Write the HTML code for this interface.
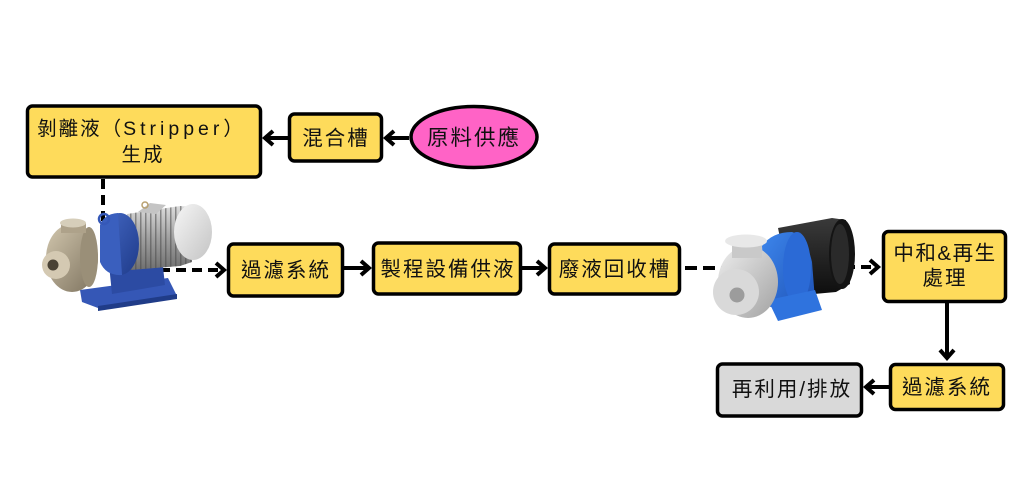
<!DOCTYPE html>
<html><head><meta charset="utf-8"><style>
html,body{margin:0;padding:0;background:#fff;}
body{width:1024px;height:477px;overflow:hidden;}
svg text{font-family:"Liberation Sans","Noto Sans CJK TC",sans-serif;fill:#111;}
</style></head><body>
<svg width="1024" height="477" viewBox="0 0 1024 477" xmlns="http://www.w3.org/2000/svg">
<defs>
<linearGradient id="motorG" x1="0" y1="0" x2="0" y2="1"><stop offset="0" stop-color="#dcdcdc"/><stop offset="0.5" stop-color="#a0a0a0"/><stop offset="1" stop-color="#707070"/></linearGradient>
<linearGradient id="capG" x1="0" y1="0" x2="1" y2="1"><stop offset="0" stop-color="#f6f6f6"/><stop offset="1" stop-color="#c4c4c4"/></linearGradient>
<linearGradient id="blueG" x1="0" y1="0" x2="1" y2="1"><stop offset="0" stop-color="#4468c4"/><stop offset="1" stop-color="#1f3b8a"/></linearGradient>
<linearGradient id="bronzeG" x1="0" y1="0" x2="1" y2="1"><stop offset="0" stop-color="#d2c7ae"/><stop offset="1" stop-color="#7d725e"/></linearGradient>
<linearGradient id="blackG" x1="0" y1="0" x2="0" y2="1"><stop offset="0" stop-color="#3a3a3a"/><stop offset="1" stop-color="#0d0d0d"/></linearGradient>
<linearGradient id="blue2G" x1="0" y1="0" x2="1" y2="1"><stop offset="0" stop-color="#3d86ec"/><stop offset="1" stop-color="#1d50b4"/></linearGradient>
<linearGradient id="silverG" x1="0" y1="0" x2="1" y2="1"><stop offset="0" stop-color="#eeeeee"/><stop offset="1" stop-color="#a2a2a2"/></linearGradient>
<pattern id="fins" width="5" height="10" patternUnits="userSpaceOnUse"><rect x="0" width="1.5" height="10" fill="#4a4a4a" opacity="0.55"/></pattern>
</defs>

<!-- connectors -->
<g stroke="#000" stroke-width="4" fill="none" stroke-linecap="butt">
  <line x1="409" y1="138" x2="388" y2="138"/>
  <polyline points="394,131 386,138 394,145"/>
  <line x1="288" y1="138" x2="266" y2="138"/>
  <polyline points="273,131 265,138 273,145"/>
  <line x1="103" y1="179" x2="103" y2="226" stroke-dasharray="10,6"/>
  <line x1="160" y1="270" x2="222" y2="270" stroke-dasharray="10,6"/>
  <polyline points="216,263 224,270 216,277"/>
  <line x1="344" y1="268" x2="368" y2="268"/>
  <polyline points="361,261 369,268 361,275"/>
  <line x1="522" y1="268" x2="544" y2="268"/>
  <polyline points="537,261 545,268 537,275"/>
  <line x1="685" y1="268" x2="730" y2="268" stroke-dasharray="12,6"/>
  <line x1="845" y1="267" x2="876" y2="267" stroke-dasharray="10,6"/>
  <polyline points="870,260 878,267 870,274"/>
  <line x1="947" y1="303" x2="947" y2="357"/>
  <polyline points="940,350 947,358 954,350"/>
  <line x1="889" y1="387" x2="868" y2="387"/>
  <polyline points="874,380 866,387 874,394"/>
</g>

<!-- boxes -->
<g stroke="#000" stroke-width="3.5">
  <rect x="27.5" y="106" width="233" height="71" rx="5" fill="#FEDB5B"/>
  <rect x="289.5" y="114" width="92" height="47" rx="5" fill="#FEDB5B"/>
  <ellipse cx="474" cy="137" rx="63" ry="30.5" fill="#FF63C6"/>
  <rect x="228.5" y="244" width="114" height="52" rx="5" fill="#FEDB5B"/>
  <rect x="373.5" y="243" width="147" height="51" rx="5" fill="#FEDB5B"/>
  <rect x="549.5" y="244" width="130" height="50" rx="5" fill="#FEDB5B"/>
  <rect x="883.5" y="231.5" width="122" height="70" rx="5" fill="#FEDB5B"/>
  <rect x="890.5" y="364.5" width="113" height="45" rx="5" fill="#FEDB5B"/>
  <rect x="717.5" y="364" width="144" height="52" rx="5" fill="#D9D9D9"/>
</g>

<!-- labels -->
<g text-anchor="middle" font-size="19.5">
  <text x="141" y="135" letter-spacing="2">剝離液（<tspan letter-spacing="4">Stripper</tspan>）</text>
  <text x="143" y="161" letter-spacing="2">生成</text>
  <text x="336" y="145" font-size="20.5" letter-spacing="2">混合槽</text>
  <text x="474" y="145" font-size="21.5" letter-spacing="2">原料供應</text>
  <text x="286" y="277" font-size="20.5" letter-spacing="2">過濾系統</text>
  <text x="448" y="276" font-size="20.5" letter-spacing="2">製程設備供液</text>
  <text x="615" y="276" font-size="20.5" letter-spacing="2">廢液回收槽</text>
  <text x="945" y="260" font-size="20.5" letter-spacing="1.5">中和&amp;再生</text>
  <text x="945" y="285" font-size="20.5" letter-spacing="2">處理</text>
  <text x="947" y="394" font-size="20.5" letter-spacing="2">過濾系統</text>
  <text x="792" y="396" font-size="20.5" letter-spacing="2">再利用/排放</text>
</g>

<!-- pump 1 -->
<g>
  <!-- base -->
  <path d="M80,290 L168,278 L177,296 L98,308 L82,302 Z" fill="#3557b6"/>
  <path d="M98,306 L177,294 L177,299 L98,311 Z" fill="#203c88"/>
  <!-- pedestal -->
  <path d="M107,245 L160,240 L165,285 L112,294 Z" fill="#2c4ba3"/>
  <!-- motor body -->
  <path d="M127,214 L180,206 L192,207 L192,262 L180,266 L130,270 Z" fill="url(#motorG)"/>
  <path d="M127,214 L180,206 L192,207 L192,262 L180,266 L130,270 Z" fill="url(#fins)"/>
  <path d="M138,212 L150,203 L166,205 L156,214 Z" fill="#c4c4c4"/>
  <circle cx="145" cy="205" r="3" fill="none" stroke="#b8a070" stroke-width="1.5"/>
  <ellipse cx="193" cy="232" rx="19" ry="28" fill="url(#capG)"/>
  <!-- blue flange -->
  <ellipse cx="120" cy="244" rx="19" ry="31" fill="url(#blueG)"/>
  <path d="M100,225 Q104,214 118,213 L122,275 Q106,276 100,262 Z" fill="#3a5fbe"/>
  <circle cx="104" cy="219" r="5" fill="none" stroke="#3558b8" stroke-width="2.5"/>
  <!-- pump head -->
  <ellipse cx="72" cy="258" rx="26" ry="34" fill="url(#bronzeG)"/>
  <ellipse cx="89" cy="257" rx="9" ry="30" fill="#9a8f78"/>
  <rect x="61" y="223" width="25" height="10" fill="#aea28a"/>
  <ellipse cx="73" cy="223" rx="13" ry="4.5" fill="#d6ceba"/>
  <circle cx="56" cy="265" r="14" fill="#d4c9b2"/>
  <circle cx="53" cy="265" r="5.5" fill="#4a4235"/>
</g>

<!-- pump 2 -->
<g>
  <!-- black motor -->
  <path d="M778,228 L832,218 L846,220 L850,284 L836,292 L792,296 Z" fill="url(#blackG)"/>
  <ellipse cx="842" cy="254" rx="13" ry="35" fill="#141414"/>
  <ellipse cx="840" cy="254" rx="9" ry="30" fill="#2a2a2a"/>
  <!-- blue housing -->
  <path d="M762,246 Q772,232 792,232 Q806,236 812,262 L815,300 L786,312 L765,305 Z" fill="url(#blue2G)"/>
  <ellipse cx="797" cy="268" rx="14" ry="36" fill="#2b6ad6"/>
  <path d="M768,300 L815,290 L822,310 L778,321 Z" fill="#2f73de"/>
  <!-- silver head -->
  <ellipse cx="748" cy="282" rx="30" ry="36" fill="url(#silverG)"/>
  <rect x="732" y="240" width="30" height="18" fill="#c9c9c9"/>
  <ellipse cx="746" cy="241" rx="21" ry="6.5" fill="#e8e8e8"/>
  <circle cx="736" cy="292" r="23" fill="#d9d9d9"/>
  <circle cx="737" cy="295" r="7.5" fill="#9c9c9c"/>
</g>
</svg>
</body></html>
